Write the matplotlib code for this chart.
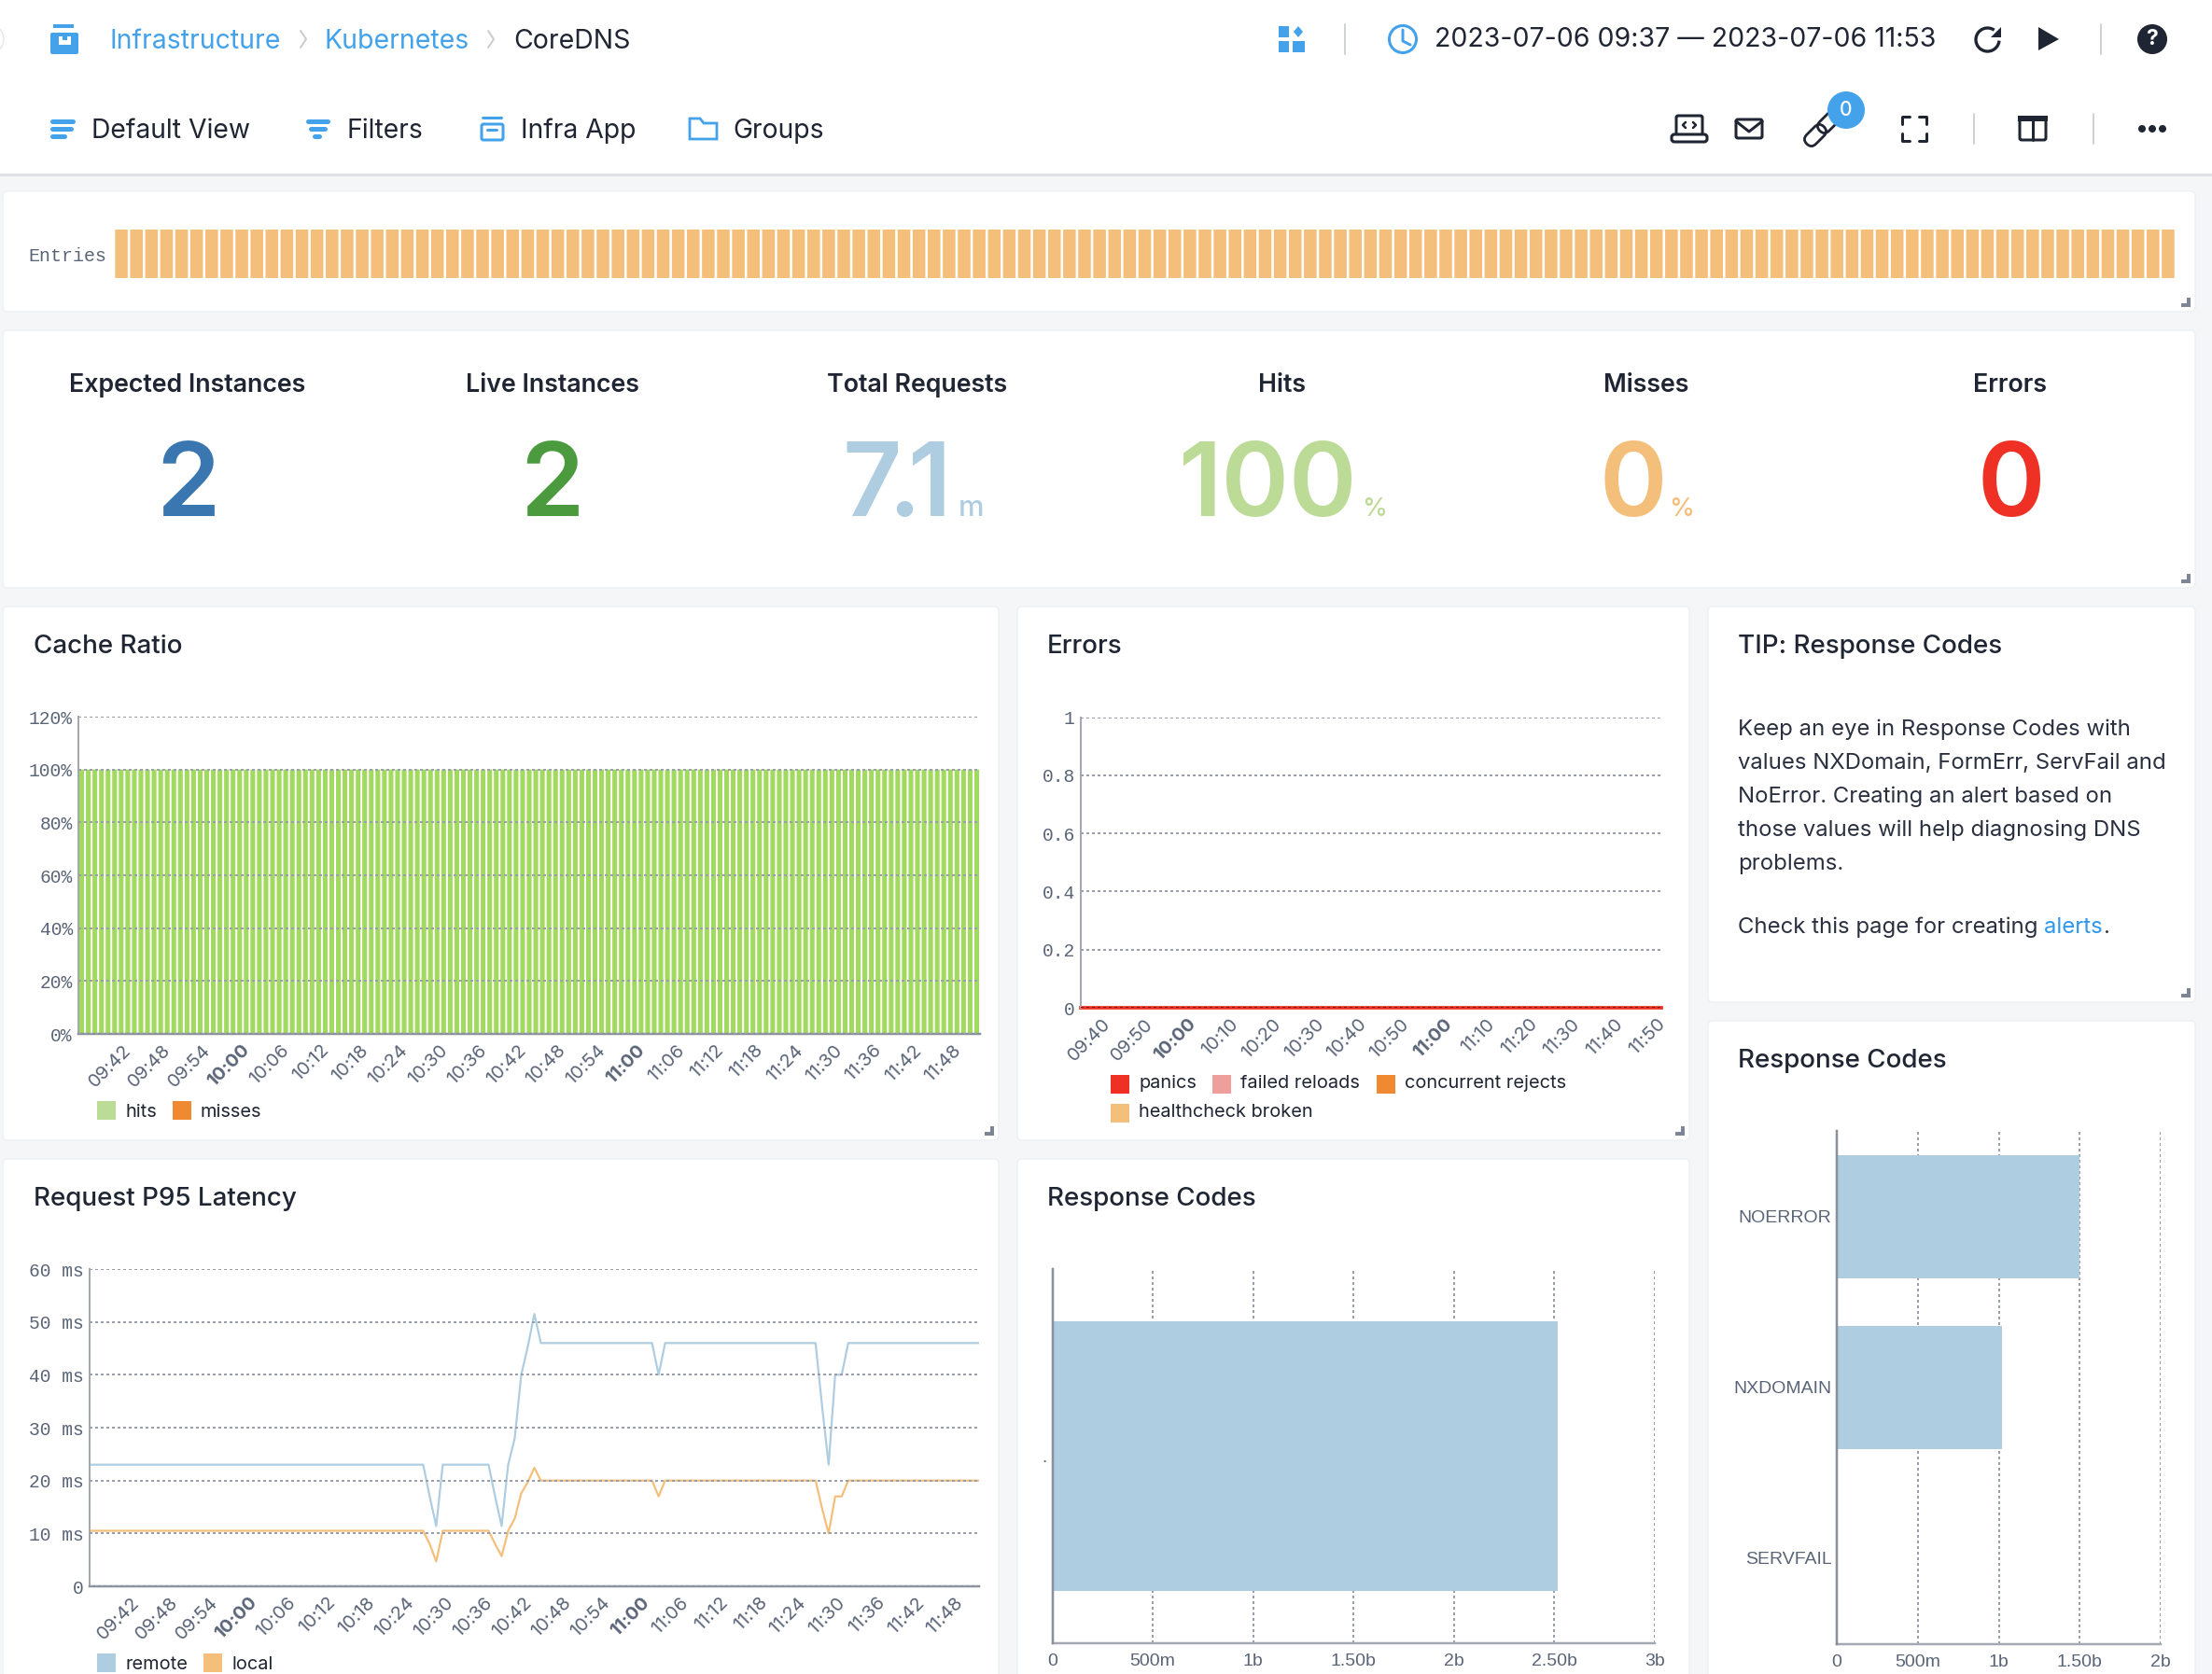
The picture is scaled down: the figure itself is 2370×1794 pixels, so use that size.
import matplotlib
matplotlib.use("Agg")
import matplotlib.pyplot as plt
from matplotlib.patches import FancyBboxPatch, Rectangle, Circle, Polygon, Arc
from matplotlib.transforms import ScaledTranslation, Affine2D

W, H = 2370, 1794

# ---------- data ----------
entries = [1] * 137
hits_pct = [100] * 137
misses_pct = [0] * 137
zeros = [0] * 137

remote_ms = [
    23, 23, 23, 23, 23, 23, 23, 23, 23, 23,
    23, 23, 23, 23, 23, 23, 23, 23, 23, 23,
    23, 23, 23, 23, 23, 23, 23, 23, 23, 23,
    23, 23, 23, 23, 23, 23, 23, 23, 23, 23,
    23, 23, 23, 23, 23, 23, 23, 23, 23, 23,
    23, 23, 17, 11.4, 23, 23, 23, 23, 23, 23,
    23, 23, 17, 11.4, 23, 28, 40, 45.3, 51.5, 46,
    46, 46, 46, 46, 46, 46, 46, 46, 46, 46,
    46, 46, 46, 46, 46, 46, 46, 40, 46, 46,
    46, 46, 46, 46, 46, 46, 46, 46, 46, 46,
    46, 46, 46, 46, 46, 46, 46, 46, 46, 46,
    46, 46, 34, 23, 40, 40, 46, 46, 46, 46,
    46, 46, 46, 46, 46, 46, 46, 46, 46, 46,
    46, 46, 46, 46, 46, 46, 46,
]
local_ms = [
    10.5, 10.5, 10.5, 10.5, 10.5, 10.5, 10.5, 10.5, 10.5, 10.5,
    10.5, 10.5, 10.5, 10.5, 10.5, 10.5, 10.5, 10.5, 10.5, 10.5,
    10.5, 10.5, 10.5, 10.5, 10.5, 10.5, 10.5, 10.5, 10.5, 10.5,
    10.5, 10.5, 10.5, 10.5, 10.5, 10.5, 10.5, 10.5, 10.5, 10.5,
    10.5, 10.5, 10.5, 10.5, 10.5, 10.5, 10.5, 10.5, 10.5, 10.5,
    10.5, 10.5, 8, 4.7, 10.5, 10.5, 10.5, 10.5, 10.5, 10.5,
    10.5, 10.5, 8, 5.7, 10.5, 12.8, 17.6, 19.7, 22.4, 20,
    20, 20, 20, 20, 20, 20, 20, 20, 20, 20,
    20, 20, 20, 20, 20, 20, 20, 17, 20, 20,
    20, 20, 20, 20, 20, 20, 20, 20, 20, 20,
    20, 20, 20, 20, 20, 20, 20, 20, 20, 20,
    20, 20, 14.7, 10, 17, 17, 20, 20, 20, 20,
    20, 20, 20, 20, 20, 20, 20, 20, 20, 20,
    20, 20, 20, 20, 20, 20, 20,
]

six_min_ticks = ["09:42", "09:48", "09:54", "10:00", "10:06", "10:12", "10:18", "10:24",
                 "10:30", "10:36", "10:42", "10:48", "10:54", "11:00", "11:06", "11:12",
                 "11:18", "11:24", "11:30", "11:36", "11:42", "11:48"]
ten_min_ticks = ["09:40", "09:50", "10:00", "10:10", "10:20", "10:30", "10:40",
                 "10:50", "11:00", "11:10", "11:20", "11:30", "11:40", "11:50"]

ratio_ticks = [0, 20, 40, 60, 80, 100, 120]
ratio_labels = ["0%", "20%", "40%", "60%", "80%", "100%", "120%"]
err_ticks = [0, 0.2, 0.4, 0.6, 0.8, 1]
err_labels = ["0", "0.2", "0.4", "0.6", "0.8", "1"]
lat_ticks = [0, 10, 20, 30, 40, 50, 60]
lat_labels = ["0", "10 ms", "20 ms", "30 ms", "40 ms", "50 ms", "60 ms"]

total_cat = ["."]
total_val = [2.515]
total_ticks = [0, 0.5, 1, 1.5, 2, 2.5, 3]
total_tick_labels = ["0", "500m", "1b", "1.50b", "2b", "2.50b", "3b"]
code_cat = ["NOERROR", "NXDOMAIN", "SERVFAIL"]
code_val = [1.498, 1.02, 0]
code_ticks = [0, 0.5, 1, 1.5, 2]
code_tick_labels = ["0", "500m", "1b", "1.50b", "2b"]

kpi_titles = ["Expected Instances", "Live Instances", "Total Requests", "Hits", "Misses", "Errors"]
tip_lines = ["Keep an eye in Response Codes with",
             "values NXDomain, FormErr, ServFail and",
             "NoError. Creating an alert based on",
             "those values will help diagnosing DNS",
             "problems."]

# ---------- styles ----------
BLUE = "#43a2ea"
INK = "#1f2532"
GREY = "#5a6477"
C_GREEN = "#bcdb97"
C_BAR = "#a2d95f"
C_ORANGE = "#f08a32"
C_PEACH = "#f4bf7a"
C_SKY = "#aecde0"
C_RED = "#ee3124"
C_PINK = "#ee9f9c"
GRID = "#9a9fab"
AXIS = "#a3a8b2"
SANS = ["Inter", "DejaVu Sans"]
MONO = "Liberation Mono"
HELV = "Liberation Sans"


def minute(label):
    h, m = label.split(":")
    return (int(h) - 9) * 60 + int(m) - 37


fig = plt.figure(figsize=(W / 100, H / 100), dpi=100, facecolor="#f5f6f8")
bg = fig.add_axes([0, 0, 1, 1], zorder=0)
bg.set_xlim(0, W)
bg.set_ylim(H, 0)
bg.axis("off")


def T(x, y, s, px, color=INK, weight="normal", ha="left", va="center", family=None, zorder=5):
    if va == "center":
        y += 2
    return bg.text(x, y, s, fontsize=px * 0.72, color=color, fontweight=weight, ha=ha, va=va,
                   family=family or SANS, zorder=zorder)


def R(x0, y0, x1, y1, color, zorder=3):
    bg.add_patch(Rectangle((x0, y0), x1 - x0, y1 - y0, fc=color, ec="none", zorder=zorder))


def OUT(x0, y0, x1, y1, color, lw=3.0, zorder=3):
    bg.add_patch(FancyBboxPatch((x0 + 2, y0 + 2), x1 - x0 - 4, y1 - y0 - 4, boxstyle="round,pad=0,rounding_size=2",
                                fc="none", ec=color, lw=lw * 0.72, zorder=zorder))


def L(xs, ys, color, lw=3.0, zorder=3):
    bg.plot(xs, ys, color=color, lw=lw * 0.72, solid_capstyle="round", zorder=zorder)


def panel(x0, y0, x1, y1, handle=True):
    bg.add_patch(FancyBboxPatch((x0 + 5, y0 + 5), x1 - x0 - 10, y1 - y0 - 10,
                                boxstyle="round,pad=5,rounding_size=5", fc="white", ec="#eef0f3", lw=1.0, zorder=1))
    if handle:
        hx, hy = x1 - 5, y1 - 5
        bg.add_patch(Polygon([(hx, hy - 10), (hx, hy), (hx - 10, hy), (hx - 10, hy - 4), (hx - 4, hy - 4), (hx - 4, hy - 10)],
                             fc="#7d8594", ec="none", zorder=2))


def axes_px(x0, y0, x1, y1):
    ax = fig.add_axes([x0 / W, 1 - y1 / H, (x1 - x0) / W, (y1 - y0) / H], zorder=2)
    ax.patch.set_alpha(0)
    for s in ("top", "right"):
        ax.spines[s].set_visible(False)
    return ax


def style_time_axis(ax, ticks):
    ax.set_xticks([minute(t) for t in ticks])
    ax.set_xticklabels(ticks)
    ax.tick_params(axis="x", length=0, pad=9)
    off = ScaledTranslation(9 / 100, 4 / 100, fig.dpi_scale_trans)
    for lab, txt in zip(ax.get_xticklabels(), ticks):
        lab.set_rotation(45)
        lab.set_ha("right")
        lab.set_va("top")
        lab.set_rotation_mode("anchor")
        lab.set_family(SANS)
        lab.set_fontsize(20 * 0.72)
        lab.set_color(GREY)
        if txt in ("10:00", "11:00"):
            lab.set_fontweight("bold")
        lab.set_transform(lab.get_transform() + off)


def style_y_axis(ax, ticks, labels):
    ax.set_yticks(ticks)
    ax.set_yticklabels(labels, family=MONO, fontsize=19.7 * 0.72, color=GREY)
    ax.tick_params(axis="y", length=0, pad=4.5)
    ax.spines["left"].set_color(AXIS)
    ax.spines["left"].set_linewidth(2 * 0.72)
    ax.spines["bottom"].set_color("#8a8f9c")
    ax.spines["bottom"].set_linewidth(2.5 * 0.72)
    ax.grid(axis="y", color=GRID, linestyle=(0, (1.5, 1.5)), linewidth=2 * 0.72)
    ax.set_axisbelow(False)


def legend_item(x, y, color, label, dy=10):
    R(x, y, x + 20, y + 20, color)
    T(x + 30, y + dy, label, 20)


# ---------- header ----------
R(0, 0, W, 186, "white", zorder=0.5)
R(0, 186, W, 189, "#dfe1e5", zorder=0.6)
bg.add_patch(Circle((-12, 42), 16, fc="white", ec="#e4e6ea", lw=1, zorder=1))

# breadcrumb
R(57, 26, 79, 30, BLUE)
bg.add_patch(FancyBboxPatch((55, 36), 28, 21, boxstyle="round,pad=1,rounding_size=2", fc=BLUE, ec="none", zorder=3))
R(63, 39, 76, 48, "white", zorder=4)
R(67, 39, 72, 43, BLUE, zorder=5)
T(117, 42, "Infrastructure", 28.4, BLUE)
L([322, 328, 322], [33, 42, 51], "#c9ccd1", 2)
T(348, 42, "Kubernetes", 28.4, BLUE)
L([523, 529, 523], [33, 42, 51], "#c9ccd1", 2)
T(550, 42, "CoreDNS", 28.4, INK)

# toolbar left
for y, xe in ((130, 78), (138, 76), (146, 69)):
    L([56, xe], [y, y], BLUE, 5)
T(98, 138, "Default View", 28.3, INK)
L([330, 351], [130, 130], BLUE, 5)
L([333, 348], [138, 138], BLUE, 5)
L([337, 342], [146, 146], BLUE, 5)
T(372, 138, "Filters", 28.3, INK)
L([517, 537], [126, 126], BLUE, 3)
OUT(514, 131, 541, 152, BLUE)
L([522, 532], [139, 139], BLUE, 3)
T(558, 138, "Infra App", 28.3, INK)
bg.add_patch(Polygon([(739, 127), (750, 127), (754, 132), (768, 132), (768, 149), (739, 149)], fc="none", ec=BLUE, lw=2.0, zorder=3))
T(785, 138, "Groups", 28.3, INK)

# toolbar right, row 1
for xa, ya, xb, yb in ((1370, 28, 1381, 40), (1370, 44, 1381, 56), (1385, 44, 1398, 56)):
    R(xa, ya, xb, yb, BLUE)
bg.add_patch(Polygon([(1391, 28), (1396, 34), (1391, 40), (1386, 34)], fc=BLUE, ec="none", zorder=3))
L([1441, 1441], [26, 58], "#cfd2d7", 2)
bg.add_patch(Circle((1503, 42), 14.5, fc="none", ec=BLUE, lw=2.2, zorder=3))
L([1503, 1503, 1511], [32, 44, 48], BLUE, 3)
T(1537, 41, "2023-07-06 09:37 \u2014 2023-07-06 11:53", 28.5, INK)
bg.add_patch(Arc((2129.5, 42.5), 25, 25, theta1=5, theta2=305, ec=INK, lw=2.4, zorder=3))
bg.add_patch(Polygon([(2143.5, 29), (2143.5, 40), (2133, 40)], fc=INK, ec="none", zorder=3))
bg.add_patch(Polygon([(2184, 29), (2206, 42), (2184, 54)], fc=INK, ec="none", zorder=3))
L([2251, 2251], [26, 58], "#cfd2d7", 2)
bg.add_patch(Circle((2306, 42), 16, fc=INK, ec="none", zorder=3))
T(2306, 40, "?", 23, "white", weight="bold", ha="center")

# toolbar right, row 2
OUT(1794, 122, 1826, 150, INK)
bg.add_patch(FancyBboxPatch((1792, 145), 36, 6, boxstyle="round,pad=1,rounding_size=3", fc="white", ec=INK, lw=2.2, zorder=4))
L([1806, 1803, 1806], [131, 134, 137], INK, 2.5)
L([1814, 1817, 1814], [131, 134, 137], INK, 2.5)
OUT(1858, 126, 1890, 150, INK)
L([1860, 1874, 1888], [130, 141, 130], INK, 3)
for cx, cy in ((1945, 145), (1959, 131)):
    link = FancyBboxPatch((cx - 13, cy - 7), 26, 14, boxstyle="round,pad=0,rounding_size=7", fc="none", ec=INK, lw=2.0, zorder=3)
    link.set_transform(Affine2D().rotate_deg_around(cx, cy, -45) + bg.transData)
    bg.add_patch(link)
bg.add_patch(Circle((1978, 118), 20, fc=BLUE, ec="none", zorder=4))
T(1978, 116, "0", 21, "white", ha="center", zorder=6, weight="medium")
for sx, sy, ex, ey in ((2038, 125, 1, 1), (2064, 125, -1, 1), (2038, 151, 1, -1), (2064, 151, -1, -1)):
    L([sx + 8 * ex, sx, sx], [sy, sy, sy + 8 * ey], INK, 3)
L([2115, 2115], [122, 154], "#cfd2d7", 2)
OUT(2162, 124, 2194, 152, INK)
R(2162, 124, 2194, 130, INK)
L([2178, 2178], [126, 150], INK, 3)
L([2243, 2243], [122, 154], "#cfd2d7", 2)
for cx in (2295, 2306, 2317):
    bg.add_patch(Circle((cx, 138), 4, fc=INK, ec="none", zorder=3))

# ---------- panels ----------
panel(3, 205, 2352, 334)
panel(3, 354, 2352, 630)
panel(3, 650, 1070, 1222)
panel(1090, 650, 1810, 1222)
panel(1830, 650, 2352, 1074)
panel(1830, 1094, 2352, 1830, handle=False)
panel(3, 1242, 1070, 1830, handle=False)
panel(1090, 1242, 1810, 1830, handle=False)

T(36, 691, "Cache Ratio", 27.8, weight="medium")
T(1122, 691, "Errors", 27.8, weight="medium")
T(1862, 691, "TIP: Response Codes", 27.8, weight="medium")
T(1862, 1135, "Response Codes", 27.8, weight="medium")
T(36, 1283, "Request P95 Latency", 27.8, weight="medium")
T(1122, 1283, "Response Codes", 27.8, weight="medium")

# ---------- entries strip ----------
T(30, 272, "Entries", 20, GREY, family=MONO)
ax = axes_px(122, 246, 2331, 298)
ax.bar(range(len(entries)), entries, width=0.84, color=C_PEACH, snap=False)
ax.set_xlim(-0.5, len(entries) - 0.5)
ax.set_ylim(0, 1)
ax.axis("off")

# ---------- KPIs ----------
for cx, title in zip((201, 592, 982.5, 1373, 1764, 2154), kpi_titles):
    T(cx, 411, title, 26.8, weight="semibold", ha="center")
BASE = 553
BIG = 110
for x, ch, col in ((201, "2", "#3a77b0"), (592, "2", "#4c9a3e"),
                   (1359, "100", C_GREEN),
                   (1750, "0", C_PEACH), (2154.5, "0", C_RED)):
    T(x, BASE, ch, BIG, col, weight="semibold", ha="center", va="baseline")
# "7.1" is set tighter in the reference than the font's own spacing
T(934, BASE, "7", BIG, C_SKY, weight="semibold", ha="center", va="baseline")
T(968.7, BASE, ".", BIG, C_SKY, weight="semibold", ha="center", va="baseline")
T(996.5, BASE, "1", BIG, C_SKY, weight="semibold", ha="center", va="baseline")
T(1027, BASE, "m", 31, C_SKY, weight="medium", va="baseline")
T(1459, BASE, "%", 27, C_GREEN, weight="medium", va="baseline")
T(1788, BASE, "%", 27, C_PEACH, weight="medium", va="baseline")

# ---------- cache ratio ----------
ax = axes_px(84, 768, 1050, 1108)
xs = list(range(len(hits_pct)))
ax.bar(xs, hits_pct, width=0.72, color=C_BAR, zorder=2, snap=False)
ax.bar(xs, misses_pct, bottom=hits_pct, width=0.72, color=C_ORANGE, zorder=2, snap=False)
ax.set_xlim(-0.5, 136.5)
ax.set_ylim(0, 120)
style_y_axis(ax, ratio_ticks, ratio_labels)
style_time_axis(ax, six_min_ticks)
legend_item(104, 1180, C_GREEN, "hits")
legend_item(185, 1180, C_ORANGE, "misses")

# ---------- errors ----------
ax = axes_px(1158, 768.5, 1780, 1080)
for color, series in ((C_PEACH, zeros), (C_ORANGE, zeros), (C_PINK, zeros), (C_RED, zeros)):
    ax.plot(xs, series, color=color, lw=3.5 * 0.72, clip_on=False, zorder=2)
ax.set_xlim(0, 136)
ax.set_ylim(0, 1)
style_y_axis(ax, err_ticks, err_labels)
ax.spines["bottom"].set_visible(False)
ax.get_ygridlines()[0].set_color("#7a1a12")
style_time_axis(ax, ten_min_ticks)
legend_item(1190, 1152, C_RED, "panics", dy=7)
legend_item(1299, 1152, C_PINK, "failed reloads", dy=7)
legend_item(1475, 1152, C_ORANGE, "concurrent rejects", dy=7)
legend_item(1190, 1183, C_PEACH, "healthcheck broken", dy=7)

# ---------- tip ----------
for y, line in zip((780, 816, 852, 888, 924), tip_lines):
    T(1862, y, line, 23.9, "#2a3040")
T(1862, 992, "Check this page for creating ", 23.9, "#2a3040")
T(2190, 992, "alerts", 23.9, "#2f97ea")
T(2253, 992, ".", 23.9, "#2a3040")

# ---------- latency ----------
ax = axes_px(96, 1360, 1049, 1700)
ax.plot(xs, remote_ms, color=C_SKY, lw=2.2 * 0.72, zorder=2)
ax.plot(xs, local_ms, color=C_PEACH, lw=2.2 * 0.72, zorder=2)
ax.set_xlim(0, 136)
ax.set_ylim(0, 60)
style_y_axis(ax, lat_ticks, lat_labels)
style_time_axis(ax, six_min_ticks)
legend_item(104, 1772, C_SKY, "remote")
legend_item(218, 1772, C_PEACH, "local")


# ---------- horizontal bars ----------
def hbars(rect, cats, vals, ticks, tick_labels, xmax):
    ax = axes_px(*rect)
    ax.barh(range(len(cats)), vals, height=0.72, color=C_SKY, zorder=3)
    ax.set_ylim(len(cats) - 0.5, -0.5)
    ax.set_xlim(0, xmax)
    ax.set_yticks(range(len(cats)))
    ax.set_yticklabels(cats, family=HELV, fontsize=19.5 * 0.72, color=GREY)
    ax.set_xticks(ticks)
    ax.set_xticklabels(tick_labels, family=HELV, fontsize=19.5 * 0.72, color=GREY)
    ax.tick_params(axis="both", length=0)
    ax.tick_params(axis="x", pad=8)
    ax.tick_params(axis="y", pad=4)
    ax.grid(axis="x", color=GRID, linestyle=(0, (1.5, 1.5)), linewidth=2 * 0.72, zorder=1)
    ax.set_axisbelow(True)
    ax.spines["left"].set_color("#8a8f9c")
    ax.spines["left"].set_linewidth(2.5 * 0.72)
    ax.spines["left"].set_zorder(5)
    ax.spines["bottom"].set_color(AXIS)
    ax.spines["bottom"].set_linewidth(2.5 * 0.72)


hbars((1127.6, 1360, 1773, 1761), total_cat, total_val, total_ticks, total_tick_labels, 3)
hbars((1968, 1212, 2315, 1761.5), code_cat, code_val, code_ticks, code_tick_labels, 2)

fig.savefig("out.png", dpi=100, facecolor=fig.get_facecolor())
